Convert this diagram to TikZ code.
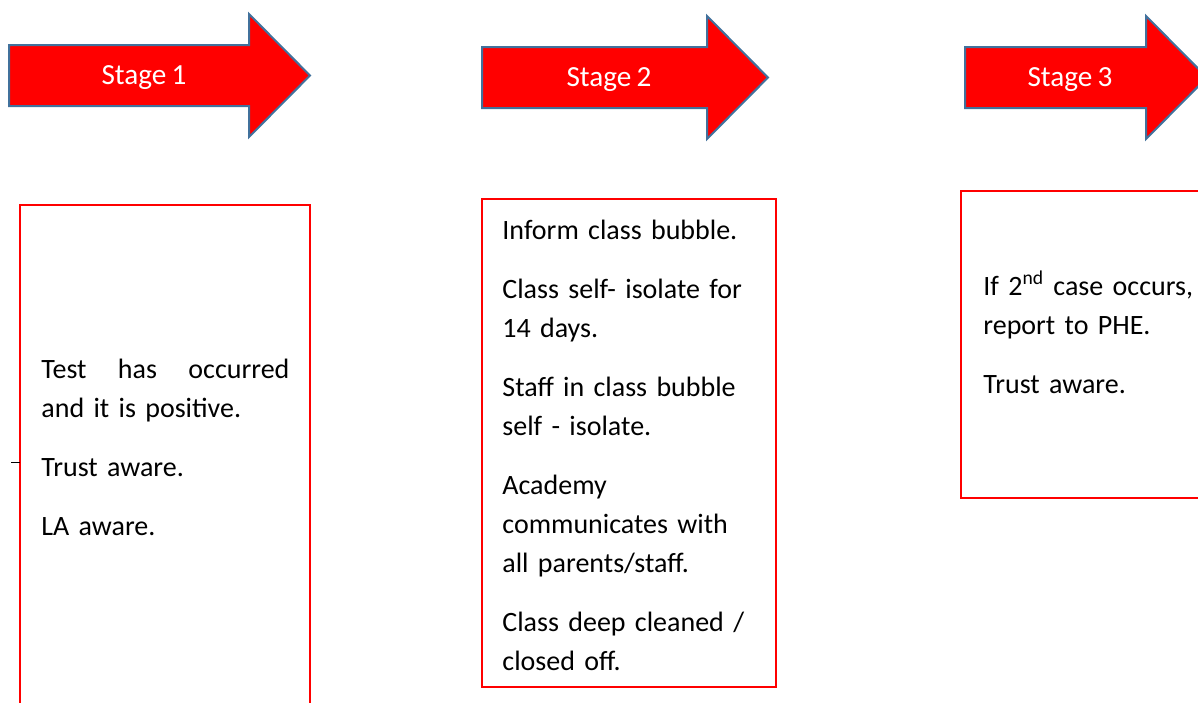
\documentclass[tikz,border=0pt]{standalone}
\usepackage{fontspec}
\setmainfont{Carlito}[WordSpace=0.8]
\definecolor{arrowedge}{HTML}{41719C}
\begin{document}
\begin{tikzpicture}[x=.5pt, y=-.5pt,
	stagearrow/.style={fill=red, draw=arrowedge, line width=1pt, line join=miter},
	stagelabel/.style={text=white, inner sep=0pt, font=\fontsize{14.6}{19.5}\selectfont},
	stepbox/.style={draw=red, line width=1.2pt},
	steptext/.style={anchor=base west, inner sep=0pt, text width=#1, align=left, font=\fontsize{14}{19.5}\selectfont}]
	\useasboundingbox (0,0) rectangle (1198,702);
	\clip (0,0) rectangle (1198,702);
	% arrows
	\draw[stagearrow] (9,45)   -- ++(240,0) -- ++(0,-31) -- ++(61,61.5) -- ++(-61,61.5) -- ++(0,-31) -- ++(-240,0) -- cycle;
	\draw[stagearrow] (482,47) -- ++(225,0) -- ++(0,-31) -- ++(61,61.5) -- ++(-61,61.5) -- ++(0,-31) -- ++(-225,0) -- cycle;
	\draw[stagearrow] (965,47) -- ++(181,0) -- ++(0,-31) -- ++(61,61.5) -- ++(-61,61.5) -- ++(0,-31) -- ++(-181,0) -- cycle;
	\node[stagelabel] (s1) at (144,77.5) {Stage 1};
	\node[stagelabel] (s2) at (609,79.5) {Stage 2};
	\node[stagelabel] (s3) at (1070,79.5) {Stage 3};
	% boxes
	\draw[stepbox] (20,205)  rectangle (310,720);
	\draw[stepbox] (482,199) rectangle (776,687);
	\draw[stepbox] (961,191) rectangle (1215,498);
	\draw (11,462) -- (20,462);
	% texts
	\node[steptext=124pt] (t1) at (41,378)
		{Test\hfill has\hfill occurred\\and it is positive.\\[10pt]Trust aware.\\[10pt]LA aware.};
	\node[steptext=130pt] (t2) at (502,239)
		{Inform class bubble.\\[10pt]Class self- isolate for\\14 days.\\[10pt]Staff in class bubble\\self - isolate.\\[10pt]Academy\\communicates with\\all parents/staff.\\[10pt]Class deep cleaned /\\closed off.};
	\node[steptext=130pt] (t3) at (983,295)
		{If 2\textsuperscript{nd} case occurs,\\report to PHE.\\[10pt]Trust aware.};
\end{tikzpicture}
\end{document}
